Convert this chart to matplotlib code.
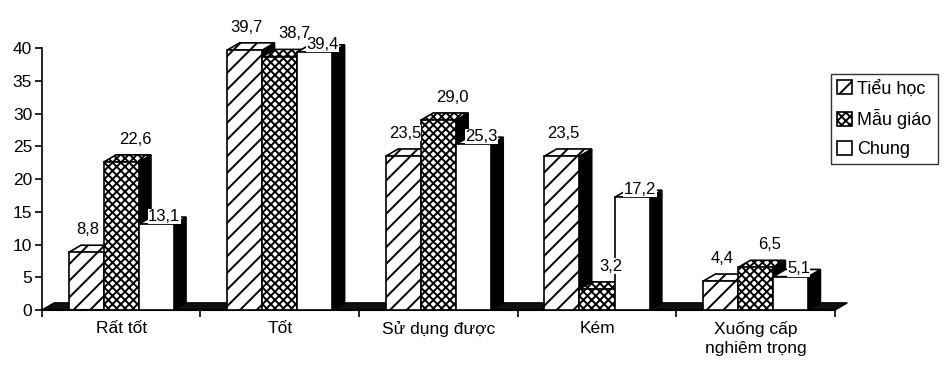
import numpy as np
import matplotlib.pyplot as plt
from matplotlib.patches import Polygon, Patch

plt.rcParams['font.family'] = ['Liberation Sans', 'DejaVu Sans']
plt.rcParams['hatch.linewidth'] = 1.4

categories = ['Rất tốt', 'Tốt', 'Sử dụng được', 'Kém', 'Xuống cấp\nnghiêm trọng']
series_names = ['Tiểu học', 'Mẫu giáo', 'Chung']
tieu_hoc = [8.8, 39.7, 23.5, 23.5, 4.4]
mau_giao = [22.6, 38.7, 29.0, 3.2, 6.5]
chung = [13.1, 39.4, 25.3, 17.2, 5.1]
values = [tieu_hoc, mau_giao, chung]

hatches = ['//', 'xxxx', '']
label_dx = [0.01, 0.09, 0.05]      # label shift in category units
label_pts = [6, 6, -5]             # label lift above bar top, points

w = 0.221      # bar width
dx = 0.078     # depth shift along x (category units)
dy = 1.1       # depth shift along y (data units)

fig = plt.figure(figsize=(9.52, 3.70), dpi=100)
ax = fig.add_axes([0.044, 0.162, 0.833, 0.708])
ax.set_xlim(-0.5, 4.5)
ax.set_ylim(0, 40)

x = np.arange(len(categories))

# dark floor under the columns
floor = Polygon([(-0.5, 0), (4.5, 0), (4.5 + dx, dy), (-0.5 + dx, dy)],
                closed=True, facecolor='#111111', edgecolor='black',
                lw=1, clip_on=False, zorder=1)
ax.add_patch(floor)

z = 2
for c in range(len(categories)):
    for i in range(3):
        v = values[i][c]
        left = x[c] - 1.5 * w + i * w
        right = left + w
        side = Polygon([(right, 0), (right + dx, dy), (right + dx, v + dy), (right, v)],
                       closed=True, facecolor='black', edgecolor='black',
                       lw=1, clip_on=False, zorder=z)
        top = Polygon([(left, v), (right, v), (right + dx, v + dy), (left + dx, v + dy)],
                      closed=True, facecolor='white', edgecolor='black',
                      hatch=hatches[i], lw=1.2, clip_on=False, zorder=z)
        ax.add_patch(side)
        ax.add_patch(top)
        ax.bar(left, v, width=w, align='edge', facecolor='white', edgecolor='black',
               hatch=hatches[i], lw=1.2, zorder=z, clip_on=False)
        z += 1

for i in range(3):
    for c in range(len(categories)):
        v = values[i][c]
        cx = x[c] - w + i * w + label_dx[i]
        ax.annotate(f'{v:.1f}'.replace('.', ','), (cx, v + dy), xytext=(0, label_pts[i]),
                    textcoords='offset points', ha='center', va='bottom', fontsize=12,
                    zorder=50, annotation_clip=False,
                    bbox=dict(facecolor='white', edgecolor='none', pad=0.3))

ax.set_yticks(np.arange(0, 41, 5))
ax.set_yticklabels([str(t) for t in range(0, 41, 5)], fontsize=12.5)
ax.set_xticks(np.arange(-0.5, 5, 1))
ax.set_xticklabels([])
ax.set_xticks(x, minor=True)
ax.set_xticklabels(categories, minor=True, fontsize=12.5, linespacing=1.3)
ax.tick_params(axis='x', which='minor', length=0, pad=8)
ax.tick_params(axis='x', which='major', length=5, width=1.2, direction='out')
ax.tick_params(axis='y', length=5, width=1.2, direction='out', pad=2)

for s in ['top', 'right']:
    ax.spines[s].set_visible(False)
ax.spines['left'].set_linewidth(1.2)
ax.spines['bottom'].set_linewidth(1.5)

handles = [Patch(facecolor='white', edgecolor='black', hatch=hatches[i], lw=1.2)
           for i in range(3)]
fig.legend(handles, series_names, loc='upper left', bbox_to_anchor=(0.873, 0.80),
           fontsize=13, frameon=True, fancybox=False, edgecolor='black',
           handlelength=0.8, handleheight=0.8, handletextpad=0.3,
           labelspacing=0.65, borderpad=0.35, borderaxespad=0)

fig.savefig('out.png', dpi=100)
